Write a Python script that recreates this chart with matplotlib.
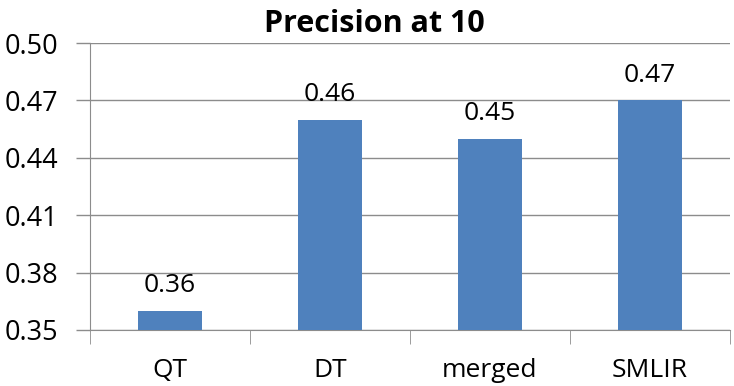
import matplotlib.pyplot as plt

categories = ['QT', 'DT', 'merged', 'SMLIR']
values = [0.36, 0.46, 0.45, 0.47]
yticks = [0.35, 0.38, 0.41, 0.44, 0.47, 0.50]

plt.rcParams['font.family'] = ['Open Sans', 'DejaVu Sans']

fig = plt.figure(figsize=(7.34, 3.86), dpi=100)
ax = fig.add_axes([90 / 734, 56 / 386, 640 / 734, 287 / 386])

x = range(len(categories))
bars = ax.bar(x, values, width=0.4, color='#4F81BD', zorder=3)

for xi, v in zip(x, values):
    ax.text(xi, v + 0.0065, f'{v:.2f}', ha='center', va='bottom', fontsize=19)

ax.set_xlim(-0.5, len(categories) - 0.5)
ax.set_ylim(0.35, 0.50)
ax.set_yticks(yticks)
ax.set_yticklabels([f'{t:.2f}' for t in yticks], fontsize=19.5)
ax.yaxis.grid(True, color='#8c8c8c', linewidth=1, zorder=0)

# category labels in the middle, tick marks on the boundaries
ax.set_xticks(list(x))
ax.set_xticklabels(categories, fontsize=19)
ax.tick_params(axis='x', length=0, pad=20)
ax.set_xticks([i - 0.5 for i in range(len(categories) + 1)], minor=True)
ax.tick_params(axis='x', which='minor', length=10, color='#8c8c8c', direction='out')
ax.tick_params(axis='y', length=10, color='#8c8c8c', width=1, pad=13)

for s in ['top', 'right']:
    ax.spines[s].set_visible(False)
for s in ['left', 'bottom']:
    ax.spines[s].set_color('#8c8c8c')

# title sits roughly over the figure centre, not the axes centre
ax.set_title('Precision at 10', fontsize=22, fontweight='bold', pad=8, x=0.445)

fig.savefig('out.png', dpi=100)
